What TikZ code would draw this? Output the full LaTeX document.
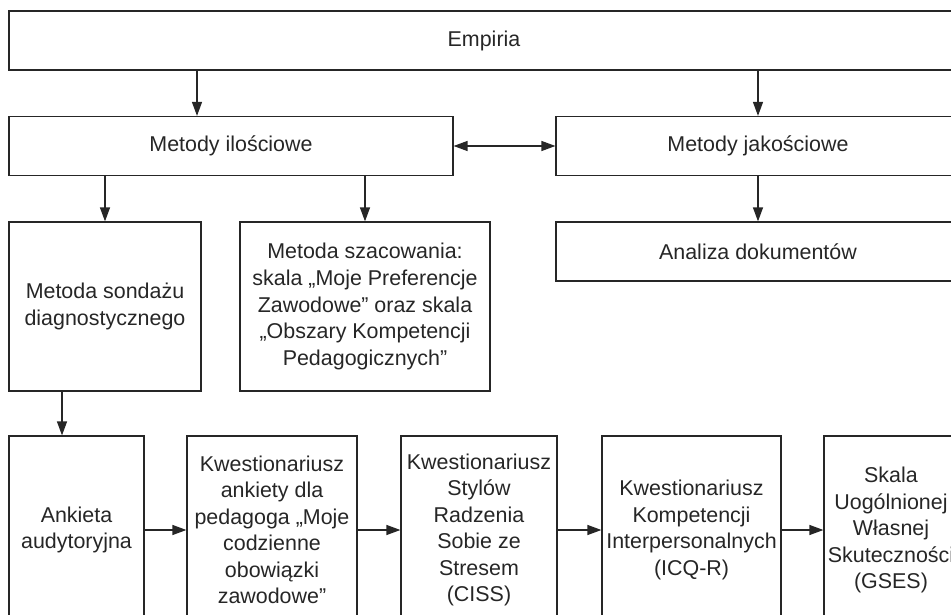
\documentclass[tikz,border=0pt]{standalone}
\usepackage{fontspec}
\setmainfont{Liberation Sans}
\usetikzlibrary{arrows.meta}

\begin{document}
\begin{tikzpicture}[x=0.02cm, y=-0.02cm,
        box/.style={draw=black!85, line width=0.7pt, align=center, inner sep=0pt,
            text=black!85, font=\fontsize{12.2}{15.1}\selectfont},
        arr/.style={draw=black!85, line width=0.7pt, -{Triangle[length=0.28cm, width=0.2cm]}},
        darr/.style={arr, {Triangle[length=0.28cm, width=0.2cm]}-{Triangle[length=0.28cm, width=0.2cm]}}]
        % Frame of the picture (the boxes run past its edges)
        \useasboundingbox (0,0) rectangle (951,615);
        \clip (0,0) rectangle (951,615);

        % Top level
        \node[box, minimum width=19.0cm, minimum height=1.18cm] (emp) at (484,40.5) {Empiria};

        % Second level: two groups of methods
        \node[box, minimum width=8.88cm, minimum height=1.18cm] (ilo) at (231,146) {Metody ilościowe};
        \node[box, minimum width=8.08cm, minimum height=1.18cm] (jak) at (758,146) {Metody jakościowe};

        % Third level
        \node[box, minimum width=3.84cm, minimum height=3.38cm] (sond) at (105,306.5) {Metoda sondażu\\diagnostycznego};
        \node[box, minimum width=5.0cm, minimum height=3.38cm] (szac) at (365,306.5)
            {Metoda szacowania:\\skala „Moje Preferencje\\Zawodowe” oraz skala\\„Obszary Kompetencji\\Pedagogicznych”};
        \node[box, minimum width=8.08cm, minimum height=1.18cm] (ana) at (758,251.5) {Analiza dokumentów};

        % Bottom row: the research tools
        \node[box, minimum width=2.7cm, minimum height=3.76cm] (k1) at (76.5,530) {Ankieta\\audytoryjna};
        \node[box, minimum width=3.4cm, minimum height=3.76cm] (k2) at (272,530)
            {Kwestionariusz\\ankiety dla\\pedagoga „Moje\\codzienne\\obowiązki\\zawodowe”};
        \node[box, minimum width=3.12cm, minimum height=3.76cm] (k3) at (479,530)
            {Kwestionariusz\\Stylów\\Radzenia\\Sobie ze\\Stresem\\(CISS)};
        \node[box, minimum width=3.58cm, minimum height=3.76cm] (k4) at (691.5,530)
            {Kwestionariusz\\Kompetencji\\Interpersonalnych\\(ICQ-R)};
        \node[box, minimum width=2.68cm, minimum height=3.76cm] (k5) at (891,530)
            {Skala\\Uogólnionej\\Własnej\\Skuteczności\\(GSES)};

        % Arrows from the top box
        \coordinate (e1) at ([xshift=-0.68cm]ilo.north);
        \draw[arr] (e1 |- emp.south) -- (e1);
        \draw[arr] (jak.north |- emp.south) -- (jak.north);
        \draw[darr] (ilo.east) -- (jak.west);

        % Arrows to the third level
        \draw[arr] (ilo.south -| sond.north) -- (sond.north);
        \draw[arr] (ilo.south -| szac.north) -- (szac.north);
        \draw[arr] (jak.south) -- (ana.north);

        % Arrow down to the tools and along the row
        \coordinate (s1) at ([xshift=-0.86cm]sond.south);
        \draw[arr] (s1) -- (s1 |- k1.north);
        \foreach \a/\b in {k1/k2, k2/k3, k3/k4, k4/k5} {
            \draw[arr] (\a.east) -- (\b.west);
        }
    \end{tikzpicture}
\end{document}
